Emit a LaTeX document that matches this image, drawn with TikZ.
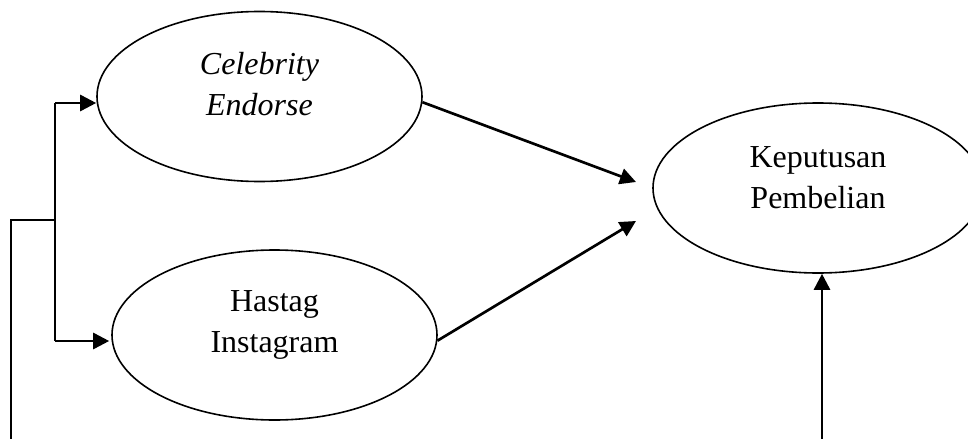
\documentclass[tikz,border=0pt]{standalone}
\usepackage{fontspec}
\setmainfont{Liberation Serif}
\usetikzlibrary{arrows.meta,shapes.geometric}

\begin{document}
\begin{tikzpicture}[x=0.75pt,y=-0.75pt]
    \tikzset{
      ellipsenode/.style={ellipse,draw=black,line width=1.2pt,inner sep=0pt,minimum width=243.75pt,minimum height=127.5pt},
      ellipsetext/.style={align=center,inner sep=0pt,font=\fontsize{24}{30.75}\selectfont},
      line/.style={line width=1.2pt},
      arrow/.style={-{Triangle[length=12pt,width=12pt]},line width=2pt}
    }
    \path[use as bounding box,clip] (0,0) rectangle (968,439);

    \node[ellipsenode](celebrity) at (259.5,96.5){};
    \node[ellipsenode](hastag) at (274.5,335){};
    \node[ellipsenode,minimum width=247.5pt](keputusan) at (818,188){};
    \node[ellipsetext](celebritytext) at ([yshift=9pt]celebrity.center){\textit{Celebrity}\\\textit{Endorse}};
    \node[ellipsetext](hastagtext) at ([yshift=7.5pt]hastag.center){Hastag\\Instagram};
    \node[ellipsetext](keputusantext) at ([yshift=7.5pt]keputusan.center){Keputusan\\Pembelian};

    \coordinate (source) at (11,439);
    \coordinate (split) at (55,220);
    \coordinate (splittop) at (55,103);
    \coordinate (splitbottom) at (55,341);
    \coordinate (target1) at (636,182);
    \coordinate (target2) at (636,221);
    \coordinate (bottomsource) at (822,439);

    \draw[line](source) |- (split);
    \draw[line](splittop) -- (splitbottom);
    \draw[arrow](splittop) -- (splittop -| celebrity.west);
    \draw[arrow,shorten >=1.5pt](splitbottom) -- (splitbottom -| hastag.west);
    \draw[arrow](celebrity.-2) -- (target1);
    \draw[arrow](hastag.-2) -- (target2);
    \draw[arrow](bottomsource) -- (bottomsource |- keputusan.south);

  \end{tikzpicture}
\end{document}
